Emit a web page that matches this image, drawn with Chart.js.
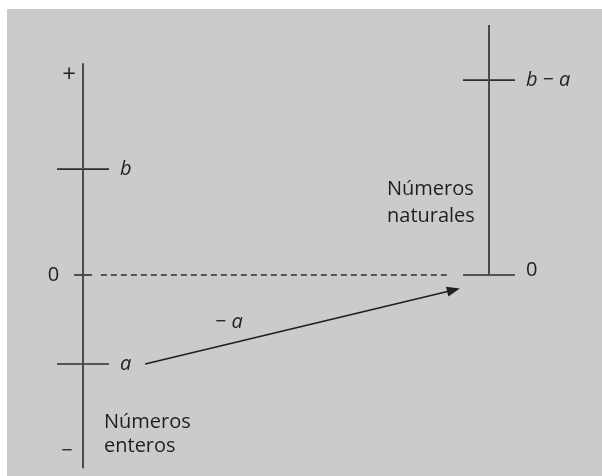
<!DOCTYPE html>
<html>
<head>
<meta charset="utf-8">
<script src="https://cdn.jsdelivr.net/npm/chart.js@4.4.1/dist/chart.umd.min.js"></script>
<style>
  html, body { margin: 0; padding: 0; background: #fff; }
  #grafico { display: block; }
</style>
</head>
<body>
<canvas id="grafico" width="602" height="476"></canvas>
<script>
// valores de la recta numérica (unidad arbitraria)
const valA = -1.0;
const valB = 1.19;

// dos ejes: enteros (x = 0) y naturales (x = 1)
const ejes = ['Números enteros', 'Números naturales'];
const ejeX = [0, 1];
const ejeTope = [2.38, 2.81];
const ejeFondo = [-2.17, 0];

// marcas sobre los ejes
const marcaEje = [0, 0, 0, 1, 1];
const marcaValor = [valB, 0, valA, valB - valA, 0];
const marcaTexto = ['b', '0', 'a', 'b \u2212 a', '0'];

// flecha de -a
const flechaX = [0.153, 0.921];
const flechaY = [valA, -0.16];
const flechaTexto = '\u2212 a';

const canvas = document.getElementById("grafico");
const medioLargo = 0.064;
const medioCorto = 0.022;

const datasets = [];
ejeX.forEach((x, i) => {
  datasets.push({
    data: [{x: x, y: ejeFondo[i]}, {x: x, y: ejeTope[i]}],
    borderColor: "#4a4a4a", borderWidth: 2
  });
});
marcaValor.forEach((v, i) => {
  const x = ejeX[marcaEje[i]];
  const m = (marcaEje[i] == 0 && v == 0) ? medioCorto : medioLargo;
  datasets.push({
    data: [{x: x - m, y: v}, {x: x + m, y: v}],
    borderColor: "#2e2e2e", borderWidth: 1.6
  });
});
// linea punteada del cero
datasets.push({
  data: [{x: ejeX[0] + 0.044, y: 0}, {x: ejeX[1] - 0.096, y: 0}],
  borderColor: "#2e2e2e", borderWidth: 1.4, borderDash: [6, 4]
});
// flecha
datasets.push({
  data: flechaX.map((x, i) => ({x: x, y: flechaY[i]})),
  borderColor: "#1e1e1e", borderWidth: 1.6
});

const fuente = '"Open Sans", sans-serif';

const fondo = {
  id: "fondo",
  beforeDraw(chart) {
    const ctx = chart.ctx;
    ctx.save();
    ctx.fillStyle = "#cbcbcb";
    ctx.fillRect(7, 9, chart.width - 7, chart.height - 9);
    ctx.restore();
  }
};

const textos = {
  id: "textos",
  afterDatasetsDraw(chart) {
    const ctx = chart.ctx;
    const xs = chart.scales.x, ys = chart.scales.y;
    ctx.save();
    ctx.fillStyle = "#1f1f1f";
    ctx.textBaseline = "middle";

    // punta de flecha
    const x0 = xs.getPixelForValue(flechaX[0]), y0 = ys.getPixelForValue(flechaY[0]);
    const x1 = xs.getPixelForValue(flechaX[1]), y1 = ys.getPixelForValue(flechaY[1]);
    const ang = Math.atan2(y1 - y0, x1 - x0);
    ctx.save();
    ctx.translate(x1, y1);
    ctx.rotate(ang);
    ctx.beginPath();
    ctx.moveTo(3, 0);
    ctx.lineTo(-10, -5);
    ctx.lineTo(-10, 5);
    ctx.closePath();
    ctx.fill();
    ctx.restore();

    // etiquetas de marcas
    marcaValor.forEach((v, i) => {
      const e = marcaEje[i];
      const py = ys.getPixelForValue(v);
      const italica = marcaTexto[i] != '0';
      ctx.font = (italica ? "italic " : "") + "20px " + fuente;
      if (e == 0 && v == 0) {
        ctx.textAlign = "right";
        ctx.fillText(marcaTexto[i], xs.getPixelForValue(ejeX[e] - medioCorto) - 15, py);
      } else {
        ctx.textAlign = "left";
        const dy = (e == 1 && v == 0) ? -5 : 0;
        ctx.fillText(marcaTexto[i], xs.getPixelForValue(ejeX[e] + medioLargo) + 11, py + dy);
      }
    });

    // signos de los extremos
    ctx.textAlign = "center";
    ctx.font = "24px " + fuente;
    ctx.fillText("+", xs.getPixelForValue(ejeX[0]) - 14, ys.getPixelForValue(2.25));
    ctx.font = "20px " + fuente;
    ctx.fillText("\u2212", xs.getPixelForValue(ejeX[0]) - 16, ys.getPixelForValue(-1.98));

    // texto de la flecha
    ctx.font = "italic 20px " + fuente;
    ctx.fillText(flechaTexto, (x0 + x1) / 2 - 72, (y0 + y1) / 2 - 4);

    // nombres de los ejes
    ctx.font = "20px " + fuente;
    ctx.textAlign = "left";
    const partesE = ejes[0].split(' ');
    const ex = xs.getPixelForValue(ejeX[0]) + 21;
    ctx.fillText(partesE[0], ex, ys.getPixelForValue(-1.66));
    ctx.fillText(partesE[1], ex, ys.getPixelForValue(-1.93));
    const partesN = ejes[1].split(' ');
    const nx = xs.getPixelForValue(ejeX[1]) - 102;
    ctx.fillText(partesN[0], nx, ys.getPixelForValue(0.96));
    ctx.fillText(partesN[1], nx, ys.getPixelForValue(0.66));
    ctx.restore();
  }
};

new Chart(canvas, {
  type: "scatter",
  data: { datasets: datasets },
  options: {
    responsive: false,
    animation: false,
    showLine: true,
    elements: { point: { radius: 0, hoverRadius: 0 }, line: { tension: 0 } },
    layout: { padding: 0 },
    plugins: { legend: { display: false }, tooltip: { enabled: false } },
    scales: {
      x: { type: "linear", display: false, min: -83 / 406, max: 519 / 406 },
      y: { type: "linear", display: false, min: -201 / 89, max: 275 / 89 }
    }
  },
  plugins: [fondo, textos]
});
</script>
</body>
</html>
